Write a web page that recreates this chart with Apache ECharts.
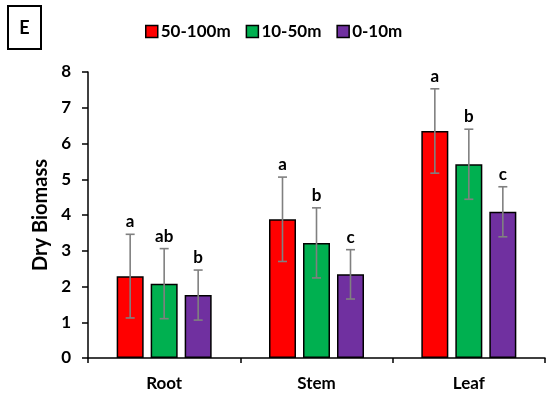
<!DOCTYPE html>
<html>
<head>
<meta charset="utf-8">
<script src="https://cdn.jsdelivr.net/npm/echarts@6/dist/echarts.min.js"></script>
<style>html,body{margin:0;padding:0;background:#fff}#c{width:550px;height:398px}</style>
</head>
<body>
<div id="c"></div>
<script>
var categories = ['Root', 'Stem', 'Leaf'];
var seriesNames = ['50-100m', '10-50m', '0-10m'];
var values_50_100 = [2.29, 3.88, 6.35];
var values_10_50 = [2.08, 3.22, 5.42];
var values_0_10 = [1.76, 2.34, 4.09];
var err_50_100 = [1.17, 1.18, 1.18];
var err_10_50 = [0.98, 0.98, 0.98];
var err_0_10 = [0.70, 0.69, 0.70];
var letters_50_100 = ['a', 'a', 'a'];
var letters_10_50 = ['ab', 'b', 'b'];
var letters_0_10 = ['b', 'c', 'c'];
var yTicks = [0, 1, 2, 3, 4, 5, 6, 7, 8];

var values = [values_50_100, values_10_50, values_0_10];
var errs = [err_50_100, err_10_50, err_0_10];
var letters = [letters_50_100, letters_10_50, letters_0_10];
var colors = ['#FF0000', '#00B050', '#7030A0'];
var FONT = 'Lato';
var BAR_W = 27, BAR_STEP = 34;

var chart = echarts.init(document.getElementById('c'), null, {renderer: 'canvas'});

var series = [];
for (var i = 0; i < 3; i++) {
  series.push({
    name: seriesNames[i],
    type: 'bar',
    data: values[i],
    barWidth: BAR_W,
    barGap: ((BAR_STEP - BAR_W) / BAR_W * 100) + '%',
    itemStyle: {color: colors[i], borderColor: '#000', borderWidth: 1.5},
    emphasis: {disabled: true},
    silent: true,
    z: 2
  });
}
for (var j = 0; j < 3; j++) {
  (function (si) {
    var data = categories.map(function (c, k) {
      return [k, values[si][k], errs[si][k], letters[si][k]];
    });
    series.push({
      type: 'custom',
      silent: true,
      z: 5,
      data: data,
      renderItem: function (params, api) {
        var k = api.value(0), m = api.value(1), e = api.value(2);
        var off = (si - 1) * BAR_STEP;
        var top = api.coord([k, m + e]);
        var bot = api.coord([k, m - e]);
        var x = top[0] + off;
        var cap = 4.5;
        var st = {stroke: '#808080', lineWidth: 1.6};
        return {
          type: 'group',
          children: [
            {type: 'line', shape: {x1: x, y1: top[1], x2: x, y2: bot[1]}, style: st},
            {type: 'line', shape: {x1: x - cap, y1: top[1], x2: x + cap, y2: top[1]}, style: st},
            {type: 'line', shape: {x1: x - cap, y1: bot[1], x2: x + cap, y2: bot[1]}, style: st},
            {type: 'text', x: x, y: top[1] - 4, style: {
              text: letters[si][k], x: 0, y: 0, align: 'center', verticalAlign: 'bottom',
              font: 'bold 17px ' + FONT, fill: '#000'
            }}
          ]
        };
      }
    });
  })(j);
}

chart.setOption({
  animation: false,
  backgroundColor: '#fff',
  grid: {left: 88, right: 5, top: 72, bottom: 40, containLabel: false},
  legend: {
    data: seriesNames,
    top: 18,
    left: 140,
    itemWidth: 12,
    itemHeight: 12,
    itemGap: 15,
    icon: 'rect',
    textStyle: {fontFamily: FONT, fontWeight: 'bold', fontSize: 17, color: '#000', padding: [0, 0, 0, -2]},
    itemStyle: {borderColor: '#000', borderWidth: 1.5}
  },
  graphic: [
    {type: 'rect', shape: {x: 8, y: 6, width: 33, height: 43}, style: {fill: '#fff', stroke: '#000', lineWidth: 2}},
    {type: 'text', x: 24.5, y: 28, style: {text: 'E', align: 'center', verticalAlign: 'middle', font: 'bold 18px ' + FONT, fill: '#000'}}
  ],
  xAxis: {
    type: 'category',
    data: categories,
    axisLine: {lineStyle: {color: '#000', width: 1.5}},
    axisTick: {show: true, alignWithLabel: false, length: 5, lineStyle: {color: '#000', width: 1.5}},
    axisLabel: {fontFamily: FONT, fontWeight: 'bold', fontSize: 17, color: '#000', margin: 17}
  },
  yAxis: {
    type: 'value',
    min: yTicks[0],
    max: yTicks[yTicks.length - 1],
    interval: 1,
    name: 'Dry Biomass',
    nameLocation: 'middle',
    nameGap: 36,
    nameTextStyle: {fontFamily: FONT, fontWeight: 'bold', fontSize: 20, color: '#000'},
    axisLine: {show: true, lineStyle: {color: '#000', width: 1.5}},
    axisTick: {show: true, length: 6, lineStyle: {color: '#000', width: 1.5}},
    axisLabel: {fontFamily: FONT, fontWeight: 'bold', fontSize: 17, color: '#000', margin: 17},
    splitLine: {show: false}
  },
  series: series
});
</script>
</body>
</html>
